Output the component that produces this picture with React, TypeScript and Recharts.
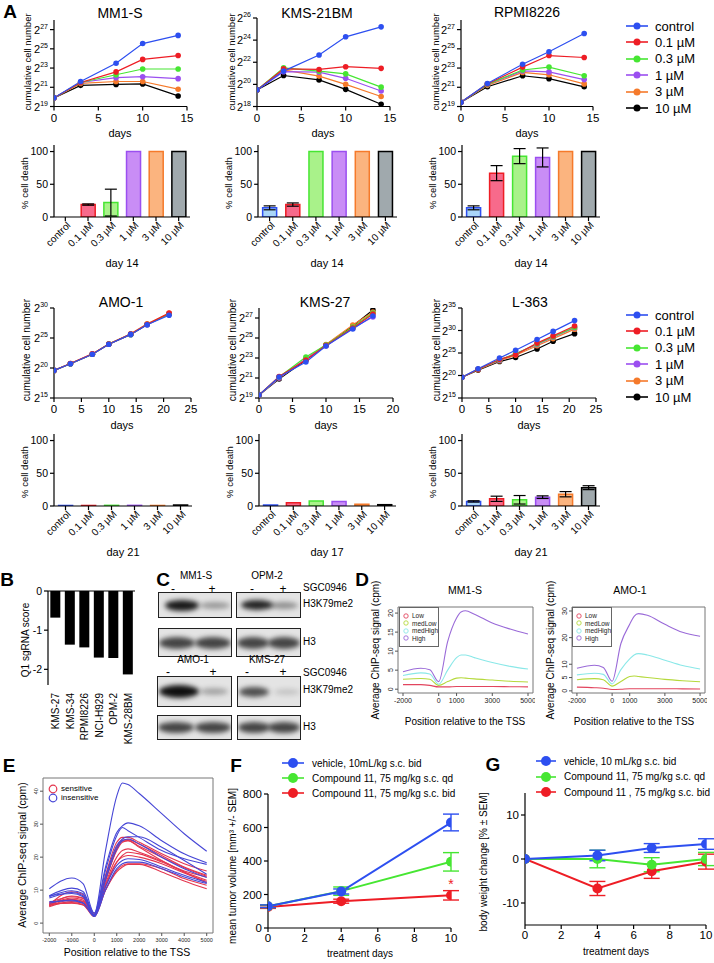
import React from 'react';
import {
  LineChart, Line, BarChart, Bar, Cell, XAxis, YAxis, ErrorBar, ReferenceArea, ReferenceLine,
} from 'recharts';

const FONT = '"Liberation Sans", Arial, Helvetica, sans-serif';
const AXIS = { stroke: '#000', strokeWidth: 1.2 };

// ---------- panel A ----------
const DOSES = ['control', '0.1 µM', '0.3 µM', '1 µM', '3 µM', '10 µM'];
const DOSE_COLORS = ['#2d4ff0', '#ee1d25', '#46e632', '#9b4ff0', '#f57a2b', '#000000'];
const BAR_FILLS = ['#a9d5f8', '#f76a8b', '#a9f28a', '#c98df6', '#fbb47f', '#a0a9ad'];

const DAYS_14 = [0, 3, 7, 10, 14];
const DAYS_17 = [0, 3, 7, 10, 14, 17];
const DAYS_21 = [0, 3, 7, 10, 14, 17, 21];

// log2 cumulative cell number, one row per dose (control ... 10 µM)
const MM1S_GROWTH = [
  [19.9, 21.6, 23.5, 25.55, 26.4],
  [19.9, 21.5, 22.6, 23.9, 24.3],
  [19.9, 21.5, 22.3, 22.9, 22.9],
  [19.9, 21.5, 22.0, 22.1, 21.9],
  [19.9, 21.4, 21.6, 21.6, 20.8],
  [19.9, 21.2, 21.3, 21.35, 20.1],
];
const KMS21BM_GROWTH = [
  [19.5, 21.2, 22.65, 24.3, 25.2],
  [19.5, 21.4, 21.35, 21.6, 21.45],
  [19.5, 21.5, 21.2, 20.95, 19.75],
  [19.5, 21.15, 21.1, 20.55, 19.4],
  [19.5, 21.3, 20.75, 20.0, 18.9],
  [19.5, 20.8, 20.4, 19.55, 18.2],
];
const RPMI8226_GROWTH = [
  [19.45, 21.4, 23.4, 24.7, 26.6],
  [19.45, 21.35, 23.1, 24.3, 24.1],
  [19.45, 21.3, 22.8, 23.1, 22.2],
  [19.45, 21.3, 22.7, 22.6, 21.8],
  [19.45, 21.2, 22.55, 22.3, 21.35],
  [19.45, 21.05, 22.2, 21.9, 21.05],
];
const AMO1_GROWTH = [
  [19.6, 20.7, 22.3, 23.95, 25.6, 27.2, 28.8],
  [19.6, 20.75, 22.35, 24.0, 25.65, 27.3, 29.15],
  [19.6, 20.7, 22.3, 24.0, 25.6, 27.25, 29.0],
  [19.6, 20.7, 22.3, 23.95, 25.6, 27.2, 29.0],
  [19.6, 20.75, 22.35, 24.0, 25.7, 27.35, 29.1],
  [19.6, 20.7, 22.3, 23.95, 25.6, 27.25, 29.05],
];
const KMS27_GROWTH = [
  [19.3, 21.1, 22.6, 24.2, 25.9, 27.2],
  [19.3, 21.15, 22.8, 24.25, 26.0, 27.4],
  [19.3, 21.1, 23.1, 24.3, 26.1, 27.5],
  [19.3, 21.0, 22.9, 24.2, 26.0, 27.1],
  [19.3, 21.0, 22.9, 24.35, 26.3, 27.6],
  [19.3, 20.9, 22.8, 24.3, 26.2, 27.8],
];
const L363_GROWTH = [
  [19.6, 21.5, 23.9, 25.6, 28.0, 29.8, 32.2],
  [19.6, 21.4, 23.6, 24.6, 27.2, 28.8, 31.0],
  [19.6, 21.4, 23.5, 24.8, 27.0, 28.6, 30.7],
  [19.6, 21.4, 23.4, 24.9, 26.9, 28.5, 30.6],
  [19.6, 21.3, 23.3, 24.5, 26.6, 28.2, 30.3],
  [19.6, 21.2, 23.1, 24.0, 25.9, 27.6, 29.3],
];

// % cell death and SD per dose
const MM1S_DEATH = [0, 19, 22, 100, 100, 100];
const MM1S_DEATH_SD = [0, 1, 20.5, 0, 0, 0];
const KMS21BM_DEATH = [14, 19, 100, 100, 100, 100];
const KMS21BM_DEATH_SD = [3, 2.5, 0, 0, 0, 0];
const RPMI8226_DEATH = [14, 67, 93, 91, 100, 100];
const RPMI8226_DEATH_SD = [3, 11.5, 11.5, 14.5, 0, 0];
const AMO1_DEATH = [0.8, 0.8, 1, 1, 0.8, 1.5];
const AMO1_DEATH_SD = [0, 0, 0, 0, 0, 0];
const KMS27_DEATH = [1.5, 5, 7.5, 7, 2.5, 2];
const KMS27_DEATH_SD = [0, 0, 0, 0, 0, 0];
const L363_DEATH = [7, 11, 9.5, 13.5, 18, 28];
const L363_DEATH_SD = [1, 4, 6.5, 2, 4, 3];

// ---------- panel B ----------
const B_LINES = ['KMS-27', 'KMS-34', 'RPMI8226', 'NCI-H929', 'OPM-2', 'KMS-28BM'];
const B_SCORES = [-0.68, -1.37, -1.44, -1.7, -1.71, -2.13];

// ---------- panel D / E ----------
const TSS_POS = [-2000, -1000, -500, 0, 500, 1000, 1250, 1500, 2000, 3000, 4000, 5000];
const D_GROUPS = ['Low', 'medLow', 'medHigh', 'High'];
const D_COLORS = ['#e2455e', '#b5d93c', '#8ae8e8', '#9a6ad8'];
const D_MM1S = [
  [1.2, 1.2, 1.0, 0.6, 0.6, 0.7, 0.7, 0.7, 0.7, 0.7, 0.65, 0.6],
  [2.6, 2.8, 2.6, 1.0, 2.0, 2.9, 3.0, 2.9, 2.7, 2.4, 2.1, 1.9],
  [3.6, 4.3, 4.0, 1.3, 5.0, 8.3, 9.0, 9.0, 8.3, 7.0, 6.0, 5.3],
  [4.6, 5.5, 5.1, 2.0, 12.5, 18.7, 20.3, 20.6, 19.7, 17.4, 15.8, 14.5],
];
const D_AMO1 = [
  [1.4, 1.2, 1.0, 0.5, 0.6, 0.8, 0.8, 0.8, 0.8, 0.8, 0.75, 0.7],
  [4.2, 4.6, 4.2, 1.8, 3.5, 5.4, 5.6, 5.4, 5.0, 4.3, 3.8, 3.4],
  [6.0, 6.6, 6.2, 2.6, 8.0, 12.0, 13.5, 14.0, 13.5, 11.5, 9.5, 8.2],
  [8.5, 9.6, 8.8, 3.6, 17.8, 25.0, 28.0, 29.0, 28.4, 25.0, 22.0, 20.5],
];
const E_INSENSITIVE = [
  [10.4, 13.7, 12.0, 3.0, 22, 38.5, 42.5, 42.0, 39.3, 33.2, 27.1, 21.8],
  [8.3, 10.6, 9.6, 3.0, 17, 27.5, 29.5, 30.4, 29.5, 25.0, 21.0, 18.3],
  [8.0, 9.8, 9.0, 2.5, 16, 26.5, 29.0, 28.0, 26.0, 22.0, 19.5, 17.8],
  [7.6, 9.3, 8.3, 2.2, 14, 23.5, 25.5, 26.2, 26.2, 23.0, 19.0, 14.8],
  [8.3, 9.0, 8.0, 2.0, 13, 22.5, 25.0, 25.5, 24.0, 20.0, 16.5, 13.8],
  [6.0, 7.0, 6.2, 2.0, 10, 16.5, 18.0, 18.5, 18.5, 16.5, 14.0, 12.0],
  [6.5, 6.8, 6.0, 2.5, 11, 17.5, 19.0, 19.5, 19.3, 17.0, 14.5, 12.3],
];
const E_SENSITIVE = [
  [5.6, 9.5, 8.7, 2.6, 14.5, 24.5, 26.0, 26.0, 24.5, 21.0, 18.0, 15.8],
  [5.2, 8.2, 7.6, 2.4, 13.5, 23.0, 25.2, 25.3, 24.0, 20.5, 17.0, 14.5],
  [5.5, 7.6, 7.0, 2.3, 13.0, 22.5, 24.8, 25.0, 23.3, 20.0, 16.8, 14.2],
  [5.0, 6.5, 6.0, 2.0, 11.0, 18.5, 20.5, 21.5, 21.0, 18.5, 15.5, 13.0],
  [5.3, 7.0, 6.5, 2.2, 11.5, 18.5, 20.0, 20.5, 20.0, 18.0, 15.2, 12.6],
  [5.6, 6.2, 5.6, 2.0, 10.0, 16.0, 17.5, 18.0, 18.0, 16.5, 13.5, 11.5],
  [5.8, 6.0, 5.5, 2.6, 10.0, 15.5, 17.0, 17.8, 17.8, 15.5, 12.8, 10.4],
  [6.2, 8.0, 7.5, 3.0, 13.0, 22.0, 24.5, 25.0, 23.0, 19.0, 15.5, 12.2],
  [6.0, 7.2, 6.6, 2.5, 12.0, 20.0, 22.0, 22.5, 21.5, 18.8, 15.8, 14.0],
];
const E_RED = '#e4364f';
const E_BLUE = '#4646d6';

// ---------- panel F / G ----------
const FG_COLORS = ['#2d4ff0', '#46e632', '#ee1d25'];
const F_NAMES = ['vehicle, 10mL/kg s.c. bid', 'Compound 11, 75 mg/kg s.c. qd', 'Compound 11, 75 mg/kg s.c. bid'];
const F_DAYS = [0, 4, 10];
const F_VEHICLE = [130, 218, 630];
const F_VEHICLE_SEM = [8, 15, 50];
const F_QD = [130, 220, 395];
const F_QD_SEM = [8, 25, 55];
const F_BID = [125, 160, 195];
const F_BID_SEM = [8, 12, 28];

const G_NAMES = ['vehicle, 10 mL/kg s.c. bid', 'Compound 11,  75 mg/kg s.c. qd', 'Compound 11 , 75 mg/kg s.c. bid'];
const G_DAYS = [0, 4, 7, 10];
const G_VEHICLE = [0, 0.8, 2.5, 3.4];
const G_VEHICLE_SEM = [0, 1.2, 1.0, 1.2];
const G_QD = [0, 0, -1.3, 0];
const G_QD_SEM = [0, 2.0, 1.6, 1.5];
const G_BID = [0, -6.7, -2.8, -0.6];
const G_BID_SEM = [0, 1.6, 1.6, 1.7];

// ---------- helpers ----------
const Txt = ({ x, y, s = 11, rot = 0, w = 400, c = '#000', a = 'middle', children }: any) => {
  const tx = a === 'middle' ? '-50%' : a === 'end' ? '-100%' : '0';
  return (
    <div style={{
      position: 'absolute', left: x, top: y, transform: `translate(${tx}, -50%) rotate(${rot}deg)`,
      fontSize: s, fontWeight: w, color: c, fontFamily: FONT, lineHeight: 1, whiteSpace: 'nowrap',
    }}>{children}</div>
  );
};

const PowTick = ({ x, y, payload }: any) => (
  <text x={x} y={y} dy={4} textAnchor="end" fontSize={11} fontFamily={FONT} fill="#000">
    2<tspan dy={-5} fontSize={7}>{payload.value}</tspan>
  </text>
);

const SlantTick = ({ x, y, payload }: any) => (
  <g transform={`translate(${x + 3},${y})`}>
    <text textAnchor="end" transform="rotate(-45)" fontSize={10} fontFamily={FONT} fill="#000" dy={4}>
      {payload.value}
    </text>
  </g>
);

const VertTick = ({ x, y, payload }: any) => (
  <g transform={`translate(${x},${y})`}>
    <text textAnchor="end" transform="rotate(-90)" fontSize={10} fontFamily={FONT} fill="#000" dy={4}>
      {payload.value}
    </text>
  </g>
);

const RotTick = ({ x, y, payload, fs }: any) => (
  <text x={x} y={y} transform={`rotate(-90 ${x} ${y})`} textAnchor="middle" fontSize={fs} fontFamily={FONT} fill="#222">
    {payload.value}
  </text>
);

function GrowthChart(p: any) {
  const rows = p.days.map((d: number, i: number) => {
    const r: any = { day: d };
    p.series.forEach((s: number[], k: number) => { r['s' + k] = s[i]; });
    return r;
  });
  const ML = 42, MT = 8, MR = 8, MB = 26;
  return (
    <div style={{ position: 'absolute', left: p.x - ML, top: p.y - MT }}>
      <LineChart width={p.w + ML + MR} height={p.h + MT + MB} data={rows} margin={{ top: MT, right: MR, bottom: 0, left: 0 }}>
        <XAxis dataKey="day" type="number" domain={[0, p.xMax]} ticks={p.xTicks} height={MB} allowDataOverflow
          axisLine={AXIS} tickLine={AXIS} tickSize={4} tickMargin={3} interval={0}
          tick={{ fontSize: 11.5, fill: '#000', fontFamily: FONT }} />
        <YAxis type="number" domain={p.yDomain} ticks={p.yTicks} width={ML} allowDataOverflow interval={0}
          axisLine={AXIS} tickLine={AXIS} tickSize={4} tick={<PowTick />} />
        {[5, 4, 3, 2, 1, 0].map((k) => (
          <Line key={k} dataKey={'s' + k} type="linear" stroke={DOSE_COLORS[k]} strokeWidth={1.2}
            dot={{ r: 2.8, fill: DOSE_COLORS[k], stroke: DOSE_COLORS[k], strokeWidth: 0 }}
            isAnimationActive={false} />
        ))}
      </LineChart>
    </div>
  );
}

function DeathChart(p: any) {
  const rows = DOSES.map((d, i) => ({ dose: d, v: p.values[i], e: p.sd[i] > 0 ? p.sd[i] : undefined }));
  const ML = 34, MT = 8, MR = 4, MB = 44;
  return (
    <div style={{ position: 'absolute', left: p.x - ML, top: p.y - MT }}>
      <BarChart width={p.w + ML + MR} height={p.h + MT + MB} data={rows}
        margin={{ top: MT, right: MR, bottom: 0, left: 0 }} barCategoryGap="20%">
        <XAxis dataKey="dose" interval={0} height={MB} axisLine={AXIS} tickLine={AXIS} tickSize={4} tick={<SlantTick />} />
        <YAxis type="number" domain={[0, 110]} ticks={[0, 50, 100]} width={ML} allowDataOverflow
          axisLine={AXIS} tickLine={AXIS} tickSize={4} tick={{ fontSize: 10.5, fill: '#000', fontFamily: FONT }} />
        <Bar dataKey="v" isAnimationActive={false} strokeWidth={1.5}>
          {rows.map((_, i) => <Cell key={i} fill={BAR_FILLS[i]} stroke={DOSE_COLORS[i]} />)}
          <ErrorBar dataKey="e" width={6} stroke="#000" strokeWidth={1.2} />
        </Bar>
      </BarChart>
    </div>
  );
}

function TssChart(p: any) {
  const rows = TSS_POS.map((q, i) => {
    const r: any = { pos: q };
    p.lines.forEach((l: number[], k: number) => { r['l' + k] = l[i]; });
    return r;
  });
  const ML = 16, MT = 4, MR = 2, MB = 16;
  return (
    <div style={{ position: 'absolute', left: p.x - ML, top: p.y - MT }}>
      <LineChart width={p.w + ML + MR} height={p.h + MT + MB} data={rows} margin={{ top: MT, right: MR, bottom: 0, left: 0 }}>
        <XAxis dataKey="pos" type="number" domain={[-2280, 5280]} ticks={p.xTicks} allowDataOverflow interval={0}
          axisLine={false} tickLine={{ stroke: '#555' }} tickSize={3} height={MB}
          tick={{ fontSize: p.fs, fill: '#222', fontFamily: FONT }} />
        <YAxis type="number" domain={p.yDomain} ticks={p.yTicks} allowDataOverflow interval={0}
          axisLine={false} tickLine={{ stroke: '#555' }} tickSize={3} width={ML} tick={<RotTick fs={p.fs} />} />
        {p.lines.map((_: any, k: number) => (
          <Line key={k} dataKey={'l' + k} type="monotone" stroke={p.colors[k]} strokeWidth={1.1} dot={false}
            isAnimationActive={false} />
        ))}
        <ReferenceArea x1={-2280} x2={5280} y1={p.yDomain[0]} y2={p.yDomain[1]} fill="none" stroke="#777"
          strokeWidth={1} ifOverflow="visible" />
      </LineChart>
    </div>
  );
}

function TreatChart(p: any) {
  const rows = p.days.map((d: number, i: number) => {
    const r: any = { day: d };
    p.series.forEach((s: number[], k: number) => { r['s' + k] = s[i]; r['e' + k] = p.sems[k][i]; });
    return r;
  });
  const ML = 36, MT = 8, MR = 8, MB = 24;
  return (
    <div style={{ position: 'absolute', left: p.x - ML, top: p.y - MT }}>
      <LineChart width={p.w + ML + MR} height={p.h + MT + MB} data={rows} margin={{ top: MT, right: MR, bottom: 0, left: 0 }}>
        <XAxis dataKey="day" type="number" domain={[0, 10]} ticks={[0, 2, 4, 6, 8, 10]} allowDataOverflow interval={0}
          axisLine={AXIS} tickLine={AXIS} tickSize={4} height={MB} tick={{ fontSize: 11.5, fill: '#000', fontFamily: FONT }} />
        <YAxis type="number" domain={p.yDomain} ticks={p.yTicks} allowDataOverflow interval={0} width={ML}
          axisLine={AXIS} tickLine={AXIS} tickSize={4} tick={{ fontSize: 11.5, fill: '#000', fontFamily: FONT }} />
        {[2, 1, 0].map((k) => (
          <Line key={k} dataKey={'s' + k} type="linear" stroke={FG_COLORS[k]} strokeWidth={2}
            dot={{ r: 5, fill: FG_COLORS[k], stroke: FG_COLORS[k], strokeWidth: 0 }} isAnimationActive={false}>
            <ErrorBar dataKey={'e' + k} width={8} stroke={FG_COLORS[k]} strokeWidth={1.4} direction="y" />
          </Line>
        ))}
      </LineChart>
    </div>
  );
}

const LineLegend = ({ x, y, gap, names, colors, r, lw, fs, tx }: any) => (
  <>
    {names.map((n: string, i: number) => (
      <div key={n} style={{ position: 'absolute', left: x, top: y + i * gap - 7, height: 14, display: 'flex', alignItems: 'center' }}>
        <svg width={lw} height={14}>
          <line x1={0} y1={7} x2={lw} y2={7} stroke={colors[i]} strokeWidth={1.6} />
          <circle cx={lw / 2} cy={7} r={r} fill={colors[i]} />
        </svg>
        <span style={{ marginLeft: tx, fontSize: fs, fontFamily: FONT, whiteSpace: 'nowrap' }}>{n}</span>
      </div>
    ))}
  </>
);

const Blot = ({ x, y, w, h, bands }: any) => (
  <div style={{ position: 'absolute', left: x, top: y, width: w, height: h, border: '1px solid #222', background: '#e4e4e4', overflow: 'hidden' }}>
    {bands.map((b: any, i: number) => (
      <div key={i} style={{
        position: 'absolute', left: b[0] - b[2] / 2, top: h / 2 - b[3] / 2, width: b[2], height: b[3],
        borderRadius: '50%', background: `rgba(15,15,15,${b[4]})`, filter: 'blur(2.5px)',
      }} />
    ))}
  </div>
);

const DLegend = ({ x, y }: any) => (
  <div style={{ position: 'absolute', left: x, top: y, width: 38, height: 38, border: '1px solid #666', background: '#fff' }}>
    {D_GROUPS.map((g, i) => (
      <div key={g} style={{ position: 'absolute', left: 3, top: 4 + i * 7.6, display: 'flex', alignItems: 'center', height: 7 }}>
        <svg width={6} height={6}><circle cx={3} cy={3} r={2.2} fill="none" stroke={D_COLORS[i]} strokeWidth={0.9} /></svg>
        <span style={{ marginLeft: 3, fontSize: 6.5, fontFamily: FONT, color: '#222' }}>{g}</span>
      </div>
    ))}
  </div>
);

const Letter = ({ x, y, children }: any) => <Txt x={x} y={y} s={19} w={700}>{children}</Txt>;

export default function App() {
  const bRows = B_LINES.map((c, i) => ({ line: c, v: B_SCORES[i] }));
  return (
    <div style={{ position: 'absolute', left: 0, top: 0, width: 714, height: 963, background: '#fff', overflow: 'hidden', fontFamily: FONT }}>
      {/* ---------- A, row 1 ---------- */}
      <Letter x={10} y={11}>A</Letter>
      <Txt x={120} y={13} s={14}>MM1-S</Txt>
      <Txt x={317} y={13} s={14}>KMS-21BM</Txt>
      <Txt x={527} y={12} s={14}>RPMI8226</Txt>
      <GrowthChart x={54} y={19.5} w={133} h={86.5} days={DAYS_14} series={MM1S_GROWTH} yDomain={[19, 28]} yTicks={[19, 21, 23, 25, 27]} xMax={15} xTicks={[0, 5, 10, 15]} />
      <GrowthChart x={257} y={17.5} w={133} h={88.5} days={DAYS_14} series={KMS21BM_GROWTH} yDomain={[18, 26]} yTicks={[18, 20, 22, 24, 26]} xMax={15} xTicks={[0, 5, 10, 15]} />
      <GrowthChart x={461} y={19.5} w={132} h={86.5} days={DAYS_14} series={RPMI8226_GROWTH} yDomain={[19, 28]} yTicks={[19, 21, 23, 25, 27]} xMax={15} xTicks={[0, 5, 10, 15]} />
      {[28, 232, 436].map((x) => <Txt key={x} x={x} y={62} s={9.5} rot={-90}>cumulative cell number</Txt>)}
      {[120, 323, 527].map((x) => <Txt key={x} x={x} y={133} s={11}>days</Txt>)}
      <LineLegend x={626} y={26} gap={16.4} names={DOSES} colors={DOSE_COLORS} r={3.5} lw={22} fs={13} tx={7} />

      <DeathChart x={54} y={145} w={136} h={72} values={MM1S_DEATH} sd={MM1S_DEATH_SD} />
      <DeathChart x={258} y={145} w={139} h={72} values={KMS21BM_DEATH} sd={KMS21BM_DEATH_SD} />
      <DeathChart x={462} y={145} w={138} h={72} values={RPMI8226_DEATH} sd={RPMI8226_DEATH_SD} />
      {[25, 229, 433].map((x) => <Txt key={x} x={x} y={183} s={9.5} rot={-90}>% cell death</Txt>)}
      {[122, 327, 531].map((x) => <Txt key={x} x={x} y={263} s={11}>day 14</Txt>)}

      {/* ---------- A, row 2 ---------- */}
      <Txt x={121} y={302} s={14}>AMO-1</Txt>
      <Txt x={325} y={302} s={14}>KMS-27</Txt>
      <Txt x={530} y={302} s={14}>L-363</Txt>
      <GrowthChart x={54} y={308} w={137} h={90} days={DAYS_21} series={AMO1_GROWTH} yDomain={[15, 30]} yTicks={[15, 20, 25, 30]} xMax={25} xTicks={[0, 5, 10, 15, 20, 25]} />
      <GrowthChart x={259} y={308} w={134} h={90} days={DAYS_17} series={KMS27_GROWTH} yDomain={[19, 28]} yTicks={[19, 21, 23, 25, 27]} xMax={20} xTicks={[0, 5, 10, 15, 20]} />
      <GrowthChart x={462} y={308} w={134} h={90} days={DAYS_21} series={L363_GROWTH} yDomain={[15, 35]} yTicks={[15, 20, 25, 30, 35]} xMax={25} xTicks={[0, 5, 10, 15, 20, 25]} />
      {[27, 233, 437].map((x) => <Txt key={x} x={x} y={350} s={10} rot={-90}>cumulative cell number</Txt>)}
      {[122, 326, 529].map((x) => <Txt key={x} x={x} y={425} s={11}>days</Txt>)}
      <LineLegend x={626} y={315} gap={16.4} names={DOSES} colors={DOSE_COLORS} r={3.5} lw={22} fs={13} tx={7} />

      <DeathChart x={54} y={434} w={138} h={72} values={AMO1_DEATH} sd={AMO1_DEATH_SD} />
      <DeathChart x={259} y={434} w={137} h={72} values={KMS27_DEATH} sd={KMS27_DEATH_SD} />
      <DeathChart x={462} y={434} w={138} h={72} values={L363_DEATH} sd={L363_DEATH_SD} />
      {[25, 230, 433].map((x) => <Txt key={x} x={x} y={472} s={9.5} rot={-90}>% cell death</Txt>)}
      {[123, 327, 531].map((x) => <Txt key={x} x={x} y={552} s={11}>{x === 327 ? 'day 17' : 'day 21'}</Txt>)}

      {/* ---------- B ---------- */}
      <Letter x={7} y={579}>B</Letter>
      <div style={{ position: 'absolute', left: 48 - 28, top: 591 - 9 }}>
        <BarChart width={87 + 28 + 2} height={94 + 9 + 62} data={bRows} margin={{ top: 9, right: 2, bottom: 0, left: 0 }} barCategoryGap="16%">
          <XAxis dataKey="line" interval={0} axisLine={false} tickLine={false} height={62} tick={<VertTick />} />
          <YAxis type="number" domain={[-2.4, 0]} ticks={[-2, -1, 0]} allowDataOverflow interval={0} width={28}
            axisLine={AXIS} tickLine={AXIS} tickSize={4} tick={{ fontSize: 10.5, fill: '#000', fontFamily: FONT }} />
          <ReferenceLine y={0} stroke="#000" strokeWidth={1.2} />
          <Bar dataKey="v" fill="#000" isAnimationActive={false} />
        </BarChart>
      </div>
      <Txt x={26} y={640} s={10} rot={-90}>Q1 sgRNA score</Txt>

      {/* ---------- C ---------- */}
      <Letter x={163} y={579}>C</Letter>
      <Txt x={196} y={576} s={10}>MM1-S</Txt>
      <Txt x={267} y={576} s={10}>OPM-2</Txt>
      <Txt x={173} y={589} s={12}>-</Txt>
      <Txt x={212} y={589} s={12}>+</Txt>
      <Txt x={252} y={589} s={12}>-</Txt>
      <Txt x={283} y={589} s={12}>+</Txt>
      <Txt x={303} y={588} s={10} a="start">SGC0946</Txt>
      <Blot x={158} y={592} w={72} h={24} bands={[[23, 0, 34, 11, 0.95], [56, 0, 30, 7, 0.35]]} />
      <Blot x={236} y={592} w={63} h={24} bands={[[20, 0, 32, 10, 0.9], [47, 0, 28, 7, 0.4]]} />
      <Txt x={303} y={604} s={10} a="start">H3K79me2</Txt>
      <Blot x={158} y={628} w={72} h={27} bands={[[18, 0, 36, 12, 0.75], [54, 0, 36, 12, 0.75]]} />
      <Blot x={236} y={628} w={63} h={27} bands={[[16, 0, 32, 12, 0.75], [47, 0, 32, 12, 0.75]]} />
      <Txt x={303} y={642} s={10} a="start">H3</Txt>
      <Txt x={193} y={660} s={10}>AMO-1</Txt>
      <Txt x={267} y={660} s={10}>KMS-27</Txt>
      <Txt x={168} y={672} s={12}>-</Txt>
      <Txt x={213} y={672} s={12}>+</Txt>
      <Txt x={247} y={672} s={12}>-</Txt>
      <Txt x={283} y={672} s={12}>+</Txt>
      <Txt x={303} y={673} s={10} a="start">SGC0946</Txt>
      <Blot x={157} y={676} w={73} h={29} bands={[[21, 0, 40, 13, 1.0], [56, 0, 28, 7, 0.3]]} />
      <Blot x={237} y={676} w={62} h={29} bands={[[16, 0, 30, 10, 0.7], [49, 0, 26, 6, 0.15]]} />
      <Txt x={303} y={690} s={10} a="start">H3K79me2</Txt>
      <Blot x={157} y={715} w={73} h={23} bands={[[18, 0, 36, 11, 0.75], [55, 0, 36, 11, 0.75]]} />
      <Blot x={237} y={715} w={62} h={23} bands={[[16, 0, 32, 11, 0.75], [46, 0, 32, 11, 0.75]]} />
      <Txt x={303} y={727} s={10} a="start">H3</Txt>

      {/* ---------- D ---------- */}
      <Letter x={362} y={579}>D</Letter>
      <Txt x={465} y={590} s={10.5}>MM1-S</Txt>
      <Txt x={630} y={590} s={10.5}>AMO-1</Txt>
      <TssChart x={398} y={607} w={135} h={86} lines={D_MM1S} colors={D_COLORS} yDomain={[-1, 21.6]} yTicks={[0, 5, 10, 15, 20]} xTicks={[-2000, 0, 1000, 3000, 5000]} fs={7} />
      <TssChart x={572} y={607} w={133} h={86} lines={D_AMO1} colors={D_COLORS} yDomain={[-0.8, 31.5]} yTicks={[0, 5, 10, 20, 30]} xTicks={[-2000, 0, 1000, 3000, 5000]} fs={7} />
      <DLegend x={399} y={607} />
      <DLegend x={572} y={607} />
      <Txt x={376} y={650} s={10} rot={-90}>Average ChIP-seq signal (cpm)</Txt>
      <Txt x={551} y={650} s={10} rot={-90}>Average ChIP-seq signal (cpm)</Txt>
      <Txt x={465} y={722} s={10}>Position relative to the TSS</Txt>
      <Txt x={634} y={722} s={10}>Position relative to the TSS</Txt>

      {/* ---------- E ---------- */}
      <Letter x={9} y={765}>E</Letter>
      <TssChart x={43} y={778} w={170} h={155} lines={[...E_SENSITIVE, ...E_INSENSITIVE]}
        colors={[...E_SENSITIVE.map(() => E_RED), ...E_INSENSITIVE.map(() => E_BLUE)]}
        yDomain={[-3, 44]} yTicks={[0, 10, 20, 30, 40]} xTicks={[-2000, -1000, 0, 1000, 2000, 3000, 4000, 5000]} fs={5.5} />
      <svg style={{ position: 'absolute', left: 48, top: 784 }} width={10} height={20}>
        <circle cx={5} cy={5} r={3.8} fill="none" stroke={E_RED} strokeWidth={1.2} />
        <circle cx={5} cy={14} r={3.8} fill="none" stroke={E_BLUE} strokeWidth={1.2} />
      </svg>
      <Txt x={61} y={789} s={8} a="start">sensitive</Txt>
      <Txt x={61} y={798} s={8} a="start">insensitive</Txt>
      <Txt x={22} y={855} s={10.5} rot={-90}>Average ChIP-seq signal (cpm)</Txt>
      <Txt x={127} y={952} s={10.5}>Position relative to the TSS</Txt>

      {/* ---------- F ---------- */}
      <Letter x={236} y={765}>F</Letter>
      <LineLegend x={282} y={763} gap={15} names={F_NAMES} colors={FG_COLORS} r={5} lw={22} fs={10} tx={8} />
      <TreatChart x={268} y={794} w={183} h={134} days={F_DAYS} series={[F_VEHICLE, F_QD, F_BID]} sems={[F_VEHICLE_SEM, F_QD_SEM, F_BID_SEM]}
        yDomain={[0, 800]} yTicks={[0, 200, 400, 600, 800]} />
      <Txt x={451} y={884} s={14} c="#ee1d25">*</Txt>
      <Txt x={233} y={866} s={10} rot={-90}>mean tumor volume [mm³ +/- SEM]</Txt>
      <Txt x={360} y={954} s={10}>treatment days</Txt>

      {/* ---------- G ---------- */}
      <Letter x={493} y={764}>G</Letter>
      <LineLegend x={536} y={761} gap={15.5} names={G_NAMES} colors={FG_COLORS} r={5} lw={20} fs={10} tx={8} />
      <TreatChart x={525} y={793} w={181} h={132} days={G_DAYS} series={[G_VEHICLE, G_QD, G_BID]} sems={[G_VEHICLE_SEM, G_QD_SEM, G_BID_SEM]}
        yDomain={[-15, 15]} yTicks={[-10, 0, 10]} />
      <Txt x={484} y={862} s={10} rot={-90}>body weight change [% ± SEM]</Txt>
      <Txt x={616} y={952} s={10}>treatment days</Txt>
    </div>
  );
}
